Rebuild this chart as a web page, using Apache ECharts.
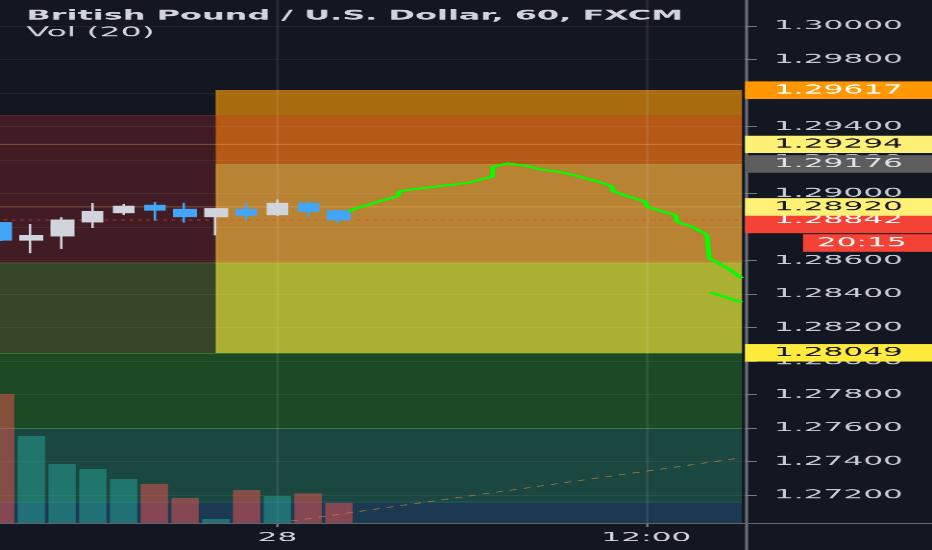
<!DOCTYPE html>
<html>
<head>
<meta charset="utf-8">
<title>GBPUSD 60 FXCM</title>
<style>
html, body { margin: 0; padding: 0; background: #131722; overflow: hidden; }
/* chart drawn narrow, then stretched sideways like the snapshot */
#chart { width: 388px; height: 550px; transform: scaleX(2.402062); transform-origin: 0 0; }
</style>
<script src="https://cdn.jsdelivr.net/npm/echarts@6.0.0/dist/echarts.min.js"></script>
</head>
<body>
<div id="chart"></div>
<script type="text/javascript">
// hours relative to the 28th 00:00
var hours  = [-9, -8, -7, -6, -5, -4, -3, -2, -1, 0, 1, 2];
var open   = [1.28826, 1.28722, 1.28746, 1.28830, 1.28885, 1.28930, 1.28906, 1.28861, 1.28906, 1.28873, 1.28942, 1.28897];
var close  = [1.28722, 1.28750, 1.28842, 1.28894, 1.28925, 1.28901, 1.28861, 1.28909, 1.28870, 1.28942, 1.28894, 1.28842];
var low    = [1.28715, 1.28643, 1.28670, 1.28794, 1.28873, 1.28838, 1.28826, 1.28750, 1.28842, 1.28866, 1.28858, 1.28822];
var high   = [1.28830, 1.28818, 1.28858, 1.28942, 1.28937, 1.28949, 1.28945, 1.28913, 1.28942, 1.28965, 1.28953, 1.28897];
var volume = [5160, 3480, 2360, 2160, 1760, 1570, 1000, 160, 1320, 1080, 1190, 800];

// green projection path
var projHours = [2.31, 2.47, 3.94, 3.95, 4.23, 6.18, 6.99, 7.01, 7.15, 7.48, 8.13, 8.55, 9.20, 9.85, 10.50,
                 10.89, 10.90, 11.37, 11.97, 12.03, 12.46, 12.94, 13.01, 13.49, 13.97, 14.05, 14.41, 14.73, 15.11];
var projPrice = [1.28891, 1.28906, 1.28987, 1.29011, 1.29021, 1.29063, 1.29100, 1.29160, 1.29170, 1.29180, 1.29164,
                 1.29144, 1.29128, 1.29100, 1.29067, 1.29041, 1.29015, 1.28985, 1.28951, 1.28921, 1.28896, 1.28872,
                 1.28830, 1.28802, 1.28752, 1.28613, 1.28577, 1.28543, 1.28494];
var proj2Hours = [14.08, 15.11];
var proj2Price = [1.28410, 1.28350];

// dashed line in the volume pane
var volTrendHours = [0.45, 15.11];
var volTrendValue = [80, 2610];

// rectangle zones: time from/to, price high/low
var zoneFrom = [-10, -10, -2, -2, -2, -2, -10, -10, -10];
var zoneTo   = [-2, -2, 15.11, 15.11, 15.11, 15.11, 15.11, 15.11, 15.11];
var zoneHigh = [1.29469, 1.28588, 1.29617, 1.29469, 1.29176, 1.28588, 1.28049, 1.27600, 1.27161];
var zoneLow  = [1.28588, 1.28049, 1.29469, 1.29176, 1.28588, 1.28049, 1.27600, 1.27161, 1.27033];

// horizontal drawn lines
var levelLines = [1.29294, 1.28920];
var lineFrom = -10, lineTo = 15.11;

// price tags on the scale
var tagPrice = [1.29617, 1.29294, 1.29176, 1.28842, 1.28920, 1.28049];

var priceMin = 1.270328, priceMax = 1.301552;
var priceTicks = [1.272, 1.274, 1.276, 1.278, 1.280, 1.282, 1.284, 1.286, 1.288, 1.290, 1.292, 1.294, 1.296, 1.298, 1.300];
var timeTicks = [0, 12];
var timeTickLabels = ['28', '12:00'];

// styles
var zoneFill = ['#421c25', '#374626', '#a86c0e', '#b45a16', '#b88332', '#acb032', '#1c4a24', '#1b4741', '#1b3a52'];
var zoneEdge = ['#55262e', '#4a5a2c', '#b07412', '#b45a16', '#c08a3a', '#b3b53a', '#3d7a2c', '#2f6e50', '#2a6a62'];
var tagBg   = ['#ff9800', '#fff176', '#5d5d5d', '#f44336', '#fff176', '#ffeb3b'];
var tagText = ['#ffffff', '#131722', '#e0e3eb', '#ffffff', '#131722', '#131722'];
var tagPadTop = [0, 0, 0, 9.2, 0, 0];
var upColor = '#d1d4dc', downColor = '#42a5f5';
var upVol = 'rgba(38,166,154,0.5)', downVol = 'rgba(239,83,80,0.5)';
var font = 'DejaVu Sans';

var xMin = -9.02, xMax = 15.21;
var lastClose = close[close.length - 1];

var candleData = hours.map(function (h, i) { return [h, open[i], close[i], low[i], high[i]]; });
var volData = hours.map(function (h, i) {
    return { value: [h, volume[i]], itemStyle: { color: close[i] >= open[i] ? upVol : downVol } };
});
var zoneData = zoneFrom.map(function (f, i) { return [f, zoneTo[i], zoneHigh[i], zoneLow[i]]; });
function zip(a, b) { return a.map(function (v, i) { return [v, b[i]]; }); }

var chart = echarts.init(document.getElementById('chart'), null, { devicePixelRatio: 2.5 });

var series = [{
    name: 'zones',
    type: 'custom',
    xAxisIndex: 0, yAxisIndex: 0,
    z: 0,
    silent: true,
    encode: { x: [0, 1], y: [2, 3] },
    data: zoneData,
    renderItem: function (params, api) {
        var i = params.dataIndex;
        var cs = params.coordSys;
        var a = api.coord([api.value(0), api.value(2)]);
        var b = api.coord([api.value(1), api.value(3)]);
        var shape = echarts.graphic.clipRectByRect(
            { x: a[0], y: a[1], width: b[0] - a[0], height: b[1] - a[1] },
            { x: cs.x, y: cs.y, width: cs.width, height: cs.height });
        if (!shape) return;
        var kids = [
            { type: 'rect', shape: shape, style: { fill: zoneFill[i] } },
            { type: 'line', shape: { x1: shape.x, y1: shape.y + 0.5, x2: shape.x + shape.width, y2: shape.y + 0.5 },
              style: { stroke: zoneEdge[i], lineWidth: 1 } }
        ];
        if (a[0] > cs.x) {
            kids.push({ type: 'line', shape: { x1: a[0] + 0.5, y1: shape.y, x2: a[0] + 0.5, y2: shape.y + shape.height },
                        style: { stroke: zoneEdge[i], lineWidth: 1 } });
        }
        return { type: 'group', children: kids };
    }
}, {
    name: 'Volume',
    type: 'bar',
    xAxisIndex: 1, yAxisIndex: 1,
    z: 2,
    barWidth: 11.4,
    data: volData
}, {
    name: 'vol trend',
    type: 'line',
    xAxisIndex: 1, yAxisIndex: 1,
    z: 2.5,
    showSymbol: false,
    lineStyle: { color: 'rgba(200,140,60,0.6)', width: 1, type: [3, 3] },
    data: zip(volTrendHours, volTrendValue)
}, {
    name: 'last',
    type: 'line',
    z: 2.5,
    showSymbol: false,
    lineStyle: { color: 'rgba(244,67,54,0.75)', width: 1, type: [1.5, 2] },
    data: [[lineFrom, lastClose], [lineTo, lastClose]]
}];

levelLines.forEach(function (p) {
    series.push({
        type: 'line',
        z: 2.5,
        showSymbol: false,
        lineStyle: { color: 'rgba(255,190,100,0.3)', width: 1 },
        data: [[lineFrom, p], [lineTo, p]]
    });
});

series.push({
    name: 'GBPUSD',
    type: 'candlestick',
    z: 3,
    barWidth: 9,
    encode: { x: 0, y: [1, 2, 3, 4] },
    itemStyle: { color: upColor, color0: downColor, borderColor: upColor, borderColor0: downColor, borderWidth: 1 },
    data: candleData,
    markLine: {
        silent: true,
        animation: false,
        precision: 5,
        symbol: ['none', 'none'],
        lineStyle: { color: 'rgba(0,0,0,0)', opacity: 1, width: 0 },
        label: {
            show: true, opacity: 1,
            position: 'end', distance: 0,
            fontFamily: font, fontSize: 13, lineHeight: 17.4, width: 66,
            formatter: function (p) { return p.value.toFixed(5); }
        },
        data: tagPrice.map(function (p, i) {
            return {
                yAxis: p,
                label: { backgroundColor: tagBg[i], color: tagText[i], padding: [tagPadTop[i], 0, 0, 12] }
            };
        })
    }
}, {
    name: 'projection',
    type: 'line',
    z: 4,
    showSymbol: false,
    lineStyle: { color: '#00ff00', width: 2 },
    data: zip(projHours, projPrice)
}, {
    name: 'projection 2',
    type: 'line',
    z: 4,
    showSymbol: false,
    lineStyle: { color: '#00ff00', width: 2 },
    data: zip(proj2Hours, proj2Price)
});

var option = {
    backgroundColor: '#131722',
    animation: false,
    title: [{
        text: 'British Pound / U.S. Dollar, 60, FXCM',
        left: 11, top: 9.7, padding: 0,
        textStyle: { color: '#d1d4dc', fontFamily: font, fontSize: 13.3, fontWeight: 'bold' }
    }, {
        text: 'Vol (20)',
        left: 11, top: 26, padding: 0,
        textStyle: { color: '#d1d4dc', fontFamily: font, fontSize: 13.8, fontWeight: 'normal' }
    }],
    grid: [
        { left: 0, right: 77.85, top: 0, bottom: 27 },
        { left: 0, right: 77.85, top: 323, bottom: 27 }
    ],
    xAxis: [{
        type: 'value', gridIndex: 0, min: xMin, max: xMax, z: 1,
        axisLine: { show: false, onZero: false },
        axisTick: { show: true, length: 4, customValues: timeTicks, lineStyle: { color: '#787b86' } },
        axisLabel: {
            customValues: timeTicks, margin: 8.5, color: '#d1d4dc', fontFamily: font, fontSize: 13,
            formatter: function (v) { return timeTickLabels[timeTicks.indexOf(v)]; }
        },
        splitLine: { show: true, lineStyle: { color: 'rgba(255,255,255,0.09)' } }
    }, {
        type: 'value', gridIndex: 1, min: xMin, max: xMax, show: false
    }],
    yAxis: [{
        type: 'value', gridIndex: 0, position: 'right', min: priceMin, max: priceMax, z: 1,
        axisLine: { show: false, onZero: false },
        axisTick: { show: true, length: 5, customValues: priceTicks, lineStyle: { color: '#787b86' } },
        axisLabel: {
            customValues: priceTicks, margin: 12, color: '#c9ccd3', fontFamily: font, fontSize: 13,
            formatter: function (v) { return v.toFixed(5); }
        },
        splitLine: { show: true, lineStyle: { color: 'rgba(255,255,255,0.06)' } }
    }, {
        type: 'value', gridIndex: 1, min: 0, max: 8000, show: false
    }],
    graphic: [
        { type: 'line', z: 1, silent: true, shape: { x1: 310.8, y1: 0, x2: 310.8, y2: 550 }, style: { stroke: '#6b6e78', lineWidth: 1.25 } },
        { type: 'line', z: 5, silent: true, shape: { x1: 0, y1: 523.5, x2: 388, y2: 523.5 }, style: { stroke: '#62656f', lineWidth: 1 } },
        { type: 'rect', z: 5, silent: true, shape: { x: 334.3, y: 234.3, width: 53.7, height: 17.4 }, style: { fill: '#f44336' } },
        { type: 'text', z: 6, silent: true, x: 340, y: 243.2,
          style: { text: '20:15', fill: '#ffffff', font: '13px "DejaVu Sans"', verticalAlign: 'middle' } }
    ],
    series: series
};

chart.setOption(option);
</script>
</body>
</html>
